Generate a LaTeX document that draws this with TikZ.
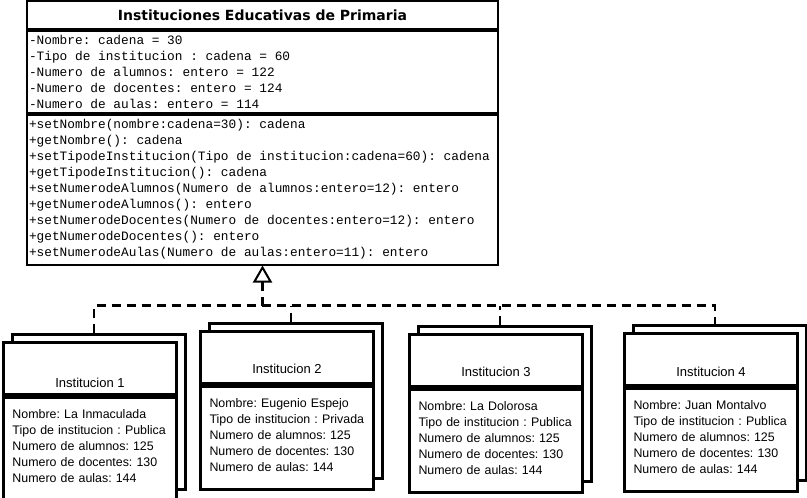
\documentclass[tikz,border=0pt]{standalone}
\usepackage{fontspec}
\setmainfont{Liberation Sans}
\setmonofont{Liberation Mono}
\newfontfamily\titulofont{DejaVu Sans}
\usetikzlibrary{arrows.meta}
\frenchspacing

\begin{document}
\begin{tikzpicture}[x=1pt,y=-1pt,-]
            \tikzstyle{clase}=[draw=black,line width=1.8pt,fill=white,minimum width=471pt,inner sep=0pt]
            \tikzstyle{miembros}=[clase,inner xsep=2pt,text width=467pt,align=left,font=\ttfamily\fontsize{12.8}{16}\selectfont,execute at begin node={\spaceskip=7.68pt\relax}]
            \tikzstyle{fondo}=[draw=black,line width=3pt,fill=white,minimum width=173pt,minimum height=155pt,inner sep=0pt]
            \tikzstyle{cabecera}=[fondo,minimum height=52pt,font=\fontsize{13}{16}\selectfont]
            \tikzstyle{datos}=[fondo,minimum height=103pt,inner xsep=9pt,text width=155pt,align=left,font=\fontsize{12.4}{16}\selectfont,execute at end node={\endgraf\vspace{6pt}}]
            \tikzstyle{realiza}=[dash pattern=on 9pt off 6pt,line width=2.4pt]
            \useasboundingbox (0,0) rectangle (807,498);

            % clase
            \node[clase,minimum height=28pt,font=\titulofont\bfseries\fontsize{14}{16}\selectfont] (C-nombre) at (262.5,15) {Instituciones Educativas de Primaria};
            \node[miembros,anchor=north,minimum height=82pt] (C-atributos) at (C-nombre.south) {-Nombre: cadena = 30\\-Tipo de institucion : cadena = 60\\-Numero de alumnos: entero = 122\\-Numero de docentes: entero = 124\\-Numero de aulas: entero = 114};
            \node[miembros,anchor=north,minimum height=150pt] (C-metodos) at (C-atributos.south) {+setNombre(nombre:cadena=30): cadena\\+getNombre(): cadena\\+setTipodeInstitucion(Tipo de institucion:cadena=60): cadena\\+getTipodeInstitucion(): cadena\\+setNumerodeAlumnos(Numero de alumnos:entero=12): entero\\+getNumerodeAlumnos(): entero\\+setNumerodeDocentes(Numero de docentes:entero=12): entero\\+getNumerodeDocentes(): entero\\+setNumerodeAulas(Numero de aulas:entero=11): entero};

            % objetos
            \foreach \num/\x/\y/\p/\nombre/\tipo in {1/2/341/7/La Inmaculada/Publica, 2/199/330/10/Eugenio Espejo/Privada, 3/408/333/10/La Dolorosa/Publica, 4/623/332/9/Juan Montalvo/Publica}
            {
                \node[fondo,anchor=north west] (F-\num) at (\x+9,\y-8) {};
                \node[cabecera,anchor=north west,text depth=\p pt,text height=52pt-\p pt] (I-\num) at (\x,\y) {Institucion \num};
                \node[datos,anchor=north] (D-\num) at (I-\num.south) {Nombre: \nombre\\Tipo de institucion : \tipo\\Numero de alumnos: 125\\Numero de docentes: 130\\Numero de aulas: 144};
            }

            \coordinate (bus) at ([yshift=-40pt]C-metodos.south);
            \draw[realiza,-{Triangle[open,length=17pt,width=19pt,line width=2pt]}] (bus) -- (C-metodos.south);
            \draw[realiza] ([xshift=-5pt]F-1.north) |- (bus) -| ([xshift=-5pt]F-4.north);
            \foreach \num in {2,3}
                \draw[realiza] ([xshift=-5pt]F-\num.north) -- ([xshift=-5pt]F-\num.north |- bus);
\end{tikzpicture}
\end{document}
